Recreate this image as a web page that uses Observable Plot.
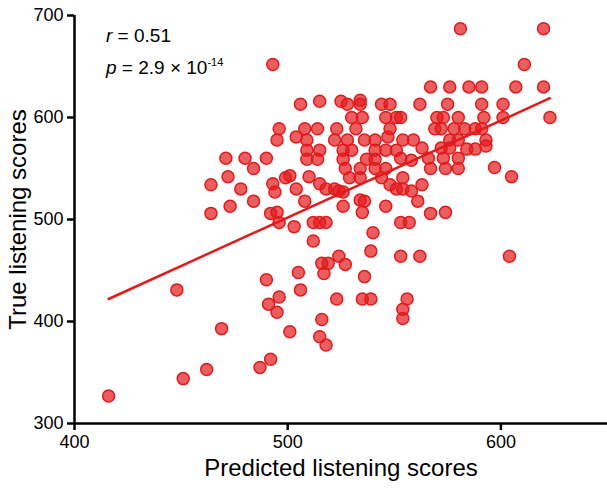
<!DOCTYPE html>
<html><head><meta charset="utf-8">
<script src="https://cdn.jsdelivr.net/npm/d3@7"></script>
<script src="https://cdn.jsdelivr.net/npm/@observablehq/plot@0.6"></script>
<style>
body{margin:0;background:#fff;}
#wrap{position:relative;width:607px;height:488px;font-family:"Liberation Sans",Arial,sans-serif;}
#stats{position:absolute;left:106px;top:20px;font-size:19px;line-height:32px;color:#000;white-space:nowrap}
#stats sup{font-size:11px;line-height:0;vertical-align:0;position:relative;top:-8px}
</style></head><body>
<div id="wrap"><div id="chart"></div>
<div id="stats"><div><i>r</i> = 0.51</div><div><i>p</i> = 2.9 × 10<sup>-14</sup></div></div>
</div>
<script>
const predicted = [416,448,451,462,469,471,472,464,478,473,464,490,506,496,491,495,523,535,539,556,554,554,516,501,515,518,492,487,
563,572,576,584,588,593,566,573,580,567,574,580,597,605,563,561,567,574,562,604,
480,490,484,509,515,509,514,526,530,526,527,529,534,534,537,541,541,541,546,551,546,544,553,554,558,
499,501,510,493,494,504,515,518,522,524,526,548,551,554,558,484,508,534,536,535,546,526,492,495,496,503,512,515,518,553,557,
540,512,539,524,527,519,516,517,505,536,553,
493,506,515,525,528,534,534,544,548,562,530,535,546,551,553,496,508,514,523,532,548,547,495,504,509,522,528,536,541,554,559,
581,620,611,567,576,585,591,607,620,575,591,601,570,573,580,592,601,623,569,572,578,583,588,591,576,580,593];
const trueScores = [327,431,344,353,393,560,542,534,530,513,506,441,431,424,417,409,422,422,422,422,412,403,402,390,385,377,363,355,
570,570,570,569,569,572,560,560,560,550,550,550,551,542,534,518,506,507,464,464,
560,560,550,568,568,559,559,568,568,559,550,541,550,541,559,568,559,550,568,568,550,541,560,541,558,
541,543,542,535,527,530,535,530,530,528,527,534,530,530,528,518,518,519,518,507,513,513,506,507,497,493,497,497,497,497,497,
487,479,469,464,456,457,457,447,448,444,464,
652,613,616,616,613,617,613,613,613,613,600,600,600,600,600,589,589,589,589,589,589,581,578,581,578,578,578,578,578,578,578,
687,687,652,630,630,630,630,630,630,613,613,613,600,600,600,600,600,600,589,589,589,589,589,589,578,578,578];
const xTicks = [400, 500, 600];
const yTicks = [300, 400, 500, 600, 700];
const xTitle = "Predicted listening scores";
const yTitle = "True listening scores";

const points = predicted.map((x, i) => ({x, y: trueScores[i]}));
const red = "#e31a1c";
const chart = Plot.plot({
  width: 607, height: 488,
  marginLeft: 74, marginRight: 0, marginTop: 15, marginBottom: 65,
  style: {fontFamily: "Liberation Sans, Arial, sans-serif", fontSize: "18px", color: "#000", background: "#fff"},
  x: {domain: [400, 650]},
  y: {domain: [300, 700]},
  marks: [
    Plot.axisX({ticks: xTicks, tickSize: 7, tickPadding: 5, strokeWidth: 2.5, fontSize: 18, label: null}),
    Plot.axisY({ticks: yTicks, tickSize: 7, tickPadding: 4, strokeWidth: 2.5, fontSize: 18, label: null}),
    Plot.ruleY([300], {strokeWidth: 2.5, stroke: "#000"}),
    Plot.ruleX([400], {strokeWidth: 2.5, stroke: "#000"}),
    Plot.dot(points, {x: "x", y: "y", r: 6, fill: red, fillOpacity: 0.7, stroke: red, strokeWidth: 1.5}),
    Plot.linearRegressionY(points, {x: "x", y: "y", stroke: red, strokeWidth: 2.5, ci: 0}),
    Plot.text([xTitle], {frameAnchor: "bottom", textAnchor: "middle", dy: 52, fontSize: 24, fill: "#000"}),
    Plot.text([yTitle], {frameAnchor: "left", textAnchor: "middle", dx: -56, rotate: -90, fontSize: 24, fill: "#000"})
  ]
});
document.getElementById("chart").appendChild(chart);
</script>
</body></html>
